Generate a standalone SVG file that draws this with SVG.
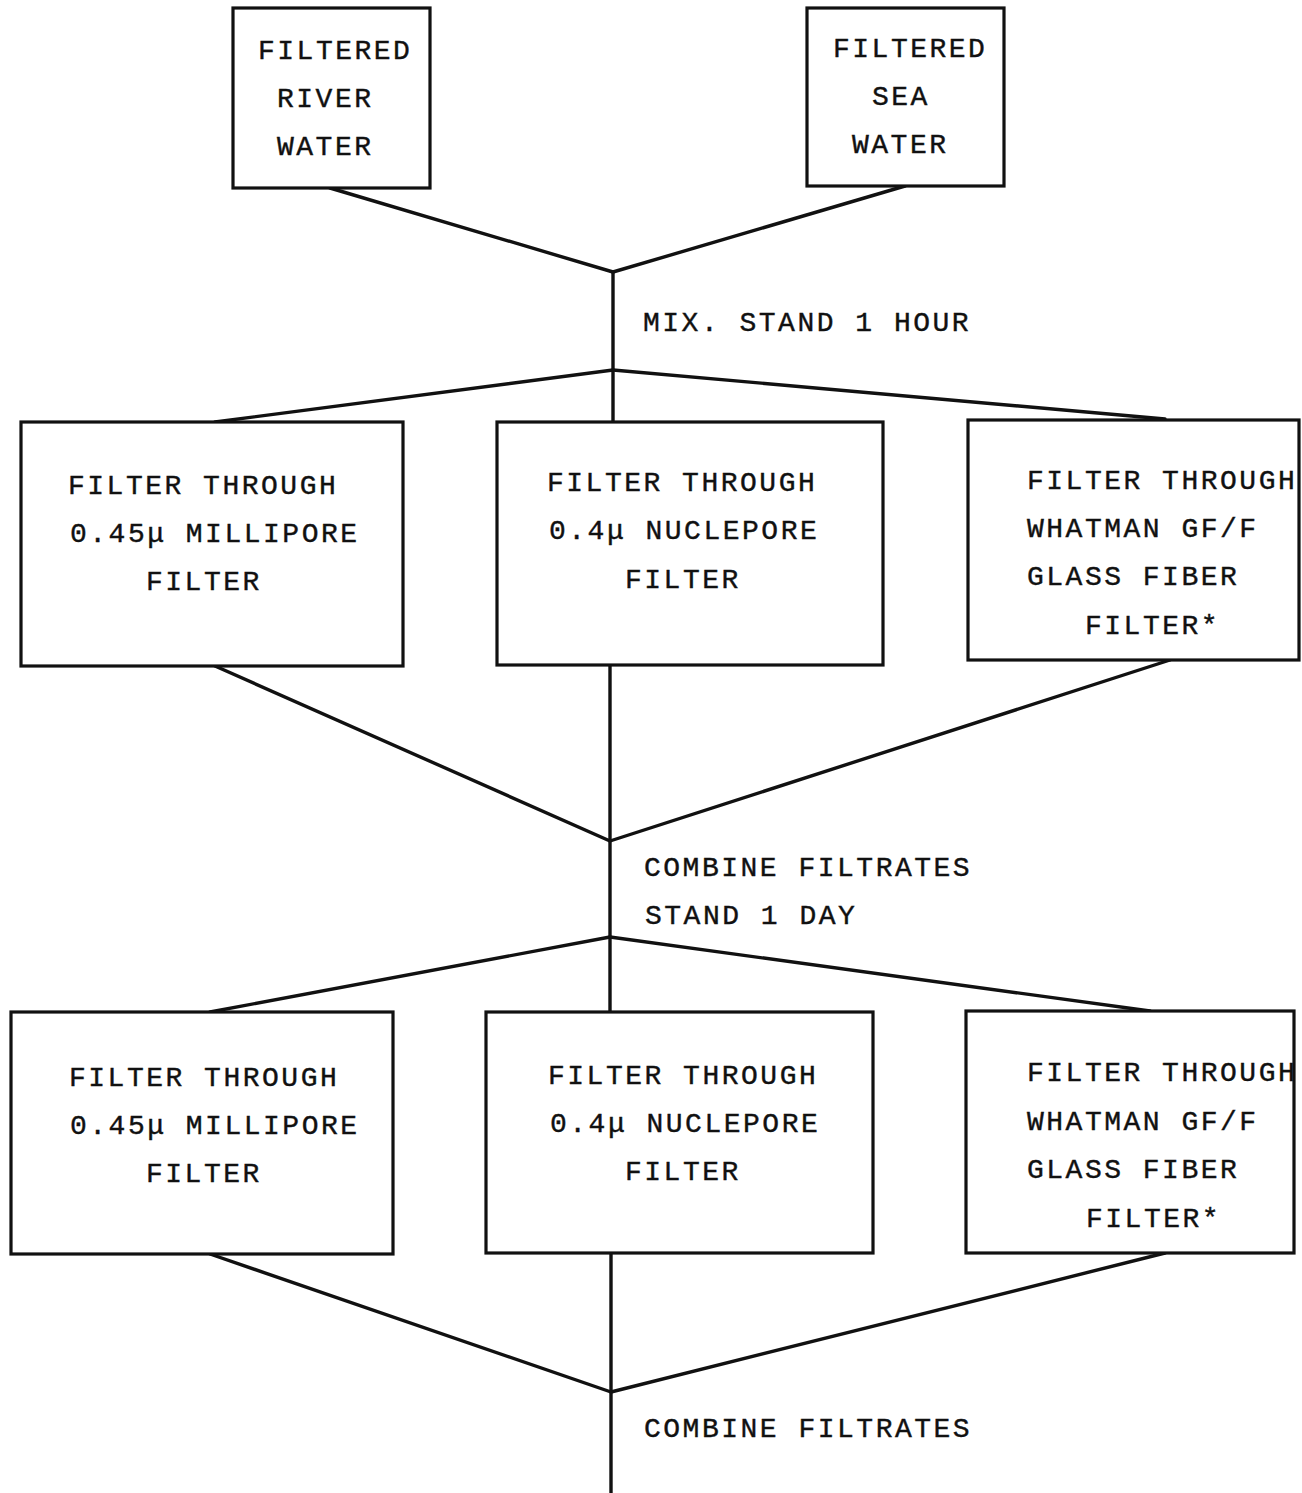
<svg xmlns="http://www.w3.org/2000/svg" width="1302" height="1493" viewBox="0 0 1302 1493">
<style>
.box{fill:#fff;stroke:#111;stroke-width:3.2}
.ln{stroke:#111;stroke-width:3.4;fill:none;stroke-linecap:round}
text{font-family:"Liberation Mono","DejaVu Sans Mono",monospace;font-size:28px;letter-spacing:2.5px;fill:#111;stroke:#111;stroke-width:0.4}
</style>
<rect width="1302" height="1493" fill="#fff"/>
<g id="connectors">
<line class="ln" x1="330" y1="188" x2="613" y2="272"/>
<line class="ln" x1="905" y1="186" x2="613" y2="272"/>
<line class="ln" x1="613" y1="272" x2="613" y2="423"/>
<line class="ln" x1="613" y1="370" x2="215" y2="422"/>
<line class="ln" x1="613" y1="370" x2="1165" y2="419"/>
<line class="ln" x1="215" y1="666" x2="610" y2="841"/>
<line class="ln" x1="1170" y1="660" x2="610" y2="841"/>
<line class="ln" x1="610" y1="665" x2="610" y2="1012"/>
<line class="ln" x1="610" y1="937" x2="210" y2="1012"/>
<line class="ln" x1="610" y1="937" x2="1150" y2="1011"/>
<line class="ln" x1="210" y1="1254" x2="611" y2="1392"/>
<line class="ln" x1="1165" y1="1253" x2="611" y2="1392"/>
<line class="ln" x1="611" y1="1254" x2="611" y2="1493"/>
</g>
<g id="river">
<rect class="box" x="233" y="8" width="197" height="180"/>
<text x="258" y="59">FILTERED</text>
<text x="277" y="107">RIVER</text>
<text x="277" y="155">WATER</text>
</g>
<g id="sea">
<rect class="box" x="807" y="8" width="197" height="178"/>
<text x="833" y="57">FILTERED</text>
<text x="872" y="105">SEA</text>
<text x="852" y="153">WATER</text>
</g>
<g id="mix-label">
<text x="643" y="331">MIX. STAND 1 HOUR</text>
</g>
<g id="millipore1">
<rect class="box" x="21" y="422" width="382" height="244"/>
<text x="68" y="494">FILTER THROUGH</text>
<text x="70" y="542">0.45μ MILLIPORE</text>
<text x="146" y="590">FILTER</text>
</g>
<g id="nuclepore1">
<rect class="box" x="497" y="422" width="386" height="243"/>
<text x="547" y="491">FILTER THROUGH</text>
<text x="549" y="539">0.4μ NUCLEPORE</text>
<text x="625" y="588">FILTER</text>
</g>
<g id="whatman1">
<rect class="box" x="968" y="420" width="331" height="240"/>
<text x="1027" y="489">FILTER THROUGH</text>
<text x="1027" y="537">WHATMAN GF/F</text>
<text x="1027" y="585">GLASS FIBER</text>
<text x="1085" y="634">FILTER*</text>
</g>
<g id="combine1-label">
<text x="644" y="876">COMBINE FILTRATES</text>
<text x="645" y="924">STAND 1 DAY</text>
</g>
<g id="millipore2">
<rect class="box" x="11" y="1012" width="382" height="242"/>
<text x="69" y="1086">FILTER THROUGH</text>
<text x="70" y="1134">0.45μ MILLIPORE</text>
<text x="146" y="1182">FILTER</text>
</g>
<g id="nuclepore2">
<rect class="box" x="486" y="1012" width="387" height="241"/>
<text x="548" y="1084">FILTER THROUGH</text>
<text x="550" y="1132">0.4μ NUCLEPORE</text>
<text x="625" y="1180">FILTER</text>
</g>
<g id="whatman2">
<rect class="box" x="966" y="1011" width="328" height="242"/>
<text x="1027" y="1081">FILTER THROUGH</text>
<text x="1027" y="1130">WHATMAN GF/F</text>
<text x="1027" y="1178">GLASS FIBER</text>
<text x="1086" y="1227">FILTER*</text>
</g>
<g id="combine2-label">
<text x="644" y="1437">COMBINE FILTRATES</text>
</g>
</svg>
